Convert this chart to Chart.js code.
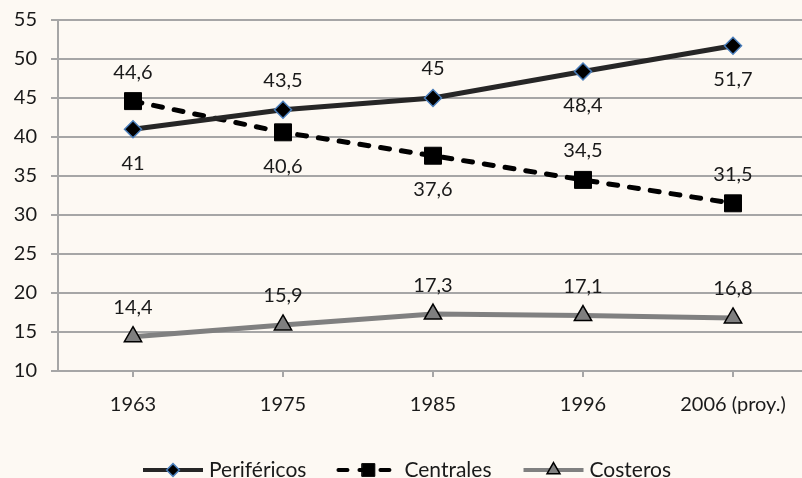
<!DOCTYPE html>
<html>
<head>
<meta charset="utf-8">
<script src="https://cdn.jsdelivr.net/npm/chart.js@4/dist/chart.umd.min.js"></script>
<style>
  body { margin: 0; background: #fdf9f3; }
  #wrap { width: 802px; height: 478px; }
</style>
</head>
<body>
<div id="wrap"><canvas id="chart" width="802" height="478"></canvas></div>
<script>
const years = ["1963", "1975", "1985", "1996", "2006 (proy.)"];
const perifericos = [41, 43.5, 45, 48.4, 51.7];
const centrales = [44.6, 40.6, 37.6, 34.5, 31.5];
const costeros = [14.4, 15.9, 17.3, 17.1, 16.8];
const yTicks = [10, 15, 20, 25, 30, 35, 40, 45, 50, 55];

const FONT = "Lato, 'Open Sans', sans-serif";
const GRID = "#a6a6a6";

const toPoints = arr => arr.map((v, i) => ({ x: i, y: v }));

// data labels, placed above or below each point
const pointLabels = {
  id: "pointLabels",
  afterDatasetsDraw(chart) {
    const ctx = chart.ctx;
    ctx.save();
    ctx.font = "20px " + FONT;
    ctx.fillStyle = "#1a1a1a";
    ctx.textAlign = "center";
    ctx.textBaseline = "middle";
    chart.data.datasets.forEach((ds, di) => {
      chart.getDatasetMeta(di).data.forEach((pt, i) => {
        const dy = ds.labelSides[i] === "below" ? 34 : -29;
        ctx.fillText(String(ds.data[i].y).replace(".", ","), pt.x, pt.y + dy);
      });
    });
    ctx.restore();
  }
};

// legend with line + marker, like the original
const lineLegend = {
  id: "lineLegend",
  afterDraw(chart) {
    const ctx = chart.ctx;
    ctx.save();
    ctx.font = "21px " + FONT;
    const lineLen = 60, gap = 6, itemGap = 32, y = 470;
    let x = 143;
    chart.data.datasets.forEach(ds => {
      ctx.beginPath();
      ctx.strokeStyle = ds.borderColor;
      ctx.lineWidth = 4;
      ctx.setLineDash(ds.borderDash || []);
      ctx.lineCap = ds.borderCapStyle || "butt";
      ctx.moveTo(x, y);
      ctx.lineTo(x + lineLen, y);
      ctx.stroke();
      ctx.setLineDash([]);
      ctx.fillStyle = ds.pointBackgroundColor;
      ctx.strokeStyle = ds.pointBorderColor;
      ctx.lineWidth = ds.pointBorderWidth;
      Chart.helpers.drawPoint(ctx, { pointStyle: ds.pointStyle, radius: ds.pointRadius * 0.75, borderWidth: ds.pointBorderWidth }, x + lineLen / 2, y);
      ctx.fillStyle = "#1a1a1a";
      ctx.textAlign = "left";
      ctx.textBaseline = "middle";
      ctx.fillText(ds.label, x + lineLen + gap, y);
      x += lineLen + gap + ctx.measureText(ds.label).width + itemGap;
    });
    ctx.restore();
  }
};

new Chart(document.getElementById("chart"), {
  type: "line",
  data: {
    datasets: [
      {
        label: "Periféricos",
        data: toPoints(perifericos),
        borderColor: "#262626",
        borderWidth: 5,
        pointStyle: "rectRot",
        pointRadius: 8.5,
        pointBackgroundColor: "#000000",
        pointBorderColor: "#4a7ebb",
        pointBorderWidth: 1.5,
        labelSides: ["below", "above", "above", "below", "below"]
      },
      {
        label: "Centrales",
        data: toPoints(centrales),
        borderColor: "#000000",
        borderWidth: 5,
        borderDash: [9, 12],
        borderCapStyle: "round",
        pointStyle: "rect",
        pointRadius: 12,
        pointBackgroundColor: "#000000",
        pointBorderColor: "#000000",
        pointBorderWidth: 1,
        labelSides: ["above", "below", "below", "above", "above"]
      },
      {
        label: "Costeros",
        data: toPoints(costeros),
        borderColor: "#808080",
        borderWidth: 5,
        pointStyle: "triangle",
        pointRadius: 10,
        pointBackgroundColor: "#7f7f7f",
        pointBorderColor: "#000000",
        pointBorderWidth: 1.5,
        labelSides: ["above", "above", "above", "above", "above"]
      }
    ]
  },
  options: {
    responsive: false,
    animation: false,
    layout: { autoPadding: false, padding: { top: 20, left: 0, right: 0, bottom: 0 } },
    plugins: { legend: { display: false }, tooltip: { enabled: false } },
    elements: { line: { tension: 0 } },
    scales: {
      x: {
        type: "linear",
        min: -0.5,
        max: 4.46,
        afterBuildTicks: s => { s.ticks = years.map((_, i) => ({ value: i })); },
        afterFit: s => { s.height = 107; s.paddingLeft = 0; s.paddingRight = 0; },
        ticks: {
          callback: v => years[v],
          color: "#1a1a1a",
          font: { family: FONT, size: 20 },
          padding: 16,
          maxRotation: 0
        },
        grid: { drawOnChartArea: false, color: GRID, lineWidth: 2, tickLength: 6 },
        border: { color: GRID, width: 2 }
      },
      y: {
        min: 10,
        max: 55,
        afterBuildTicks: s => { s.ticks = yTicks.map(v => ({ value: v })); },
        afterFit: s => { s.width = 58; s.paddingTop = 0; s.paddingBottom = 0; },
        ticks: {
          color: "#1a1a1a",
          font: { family: FONT, size: 20 },
          padding: 14
        },
        grid: { color: GRID, lineWidth: 2, tickLength: 7 },
        border: { color: GRID, width: 2 }
      }
    }
  },
  plugins: [pointLabels, lineLegend]
});
</script>
</body>
</html>
